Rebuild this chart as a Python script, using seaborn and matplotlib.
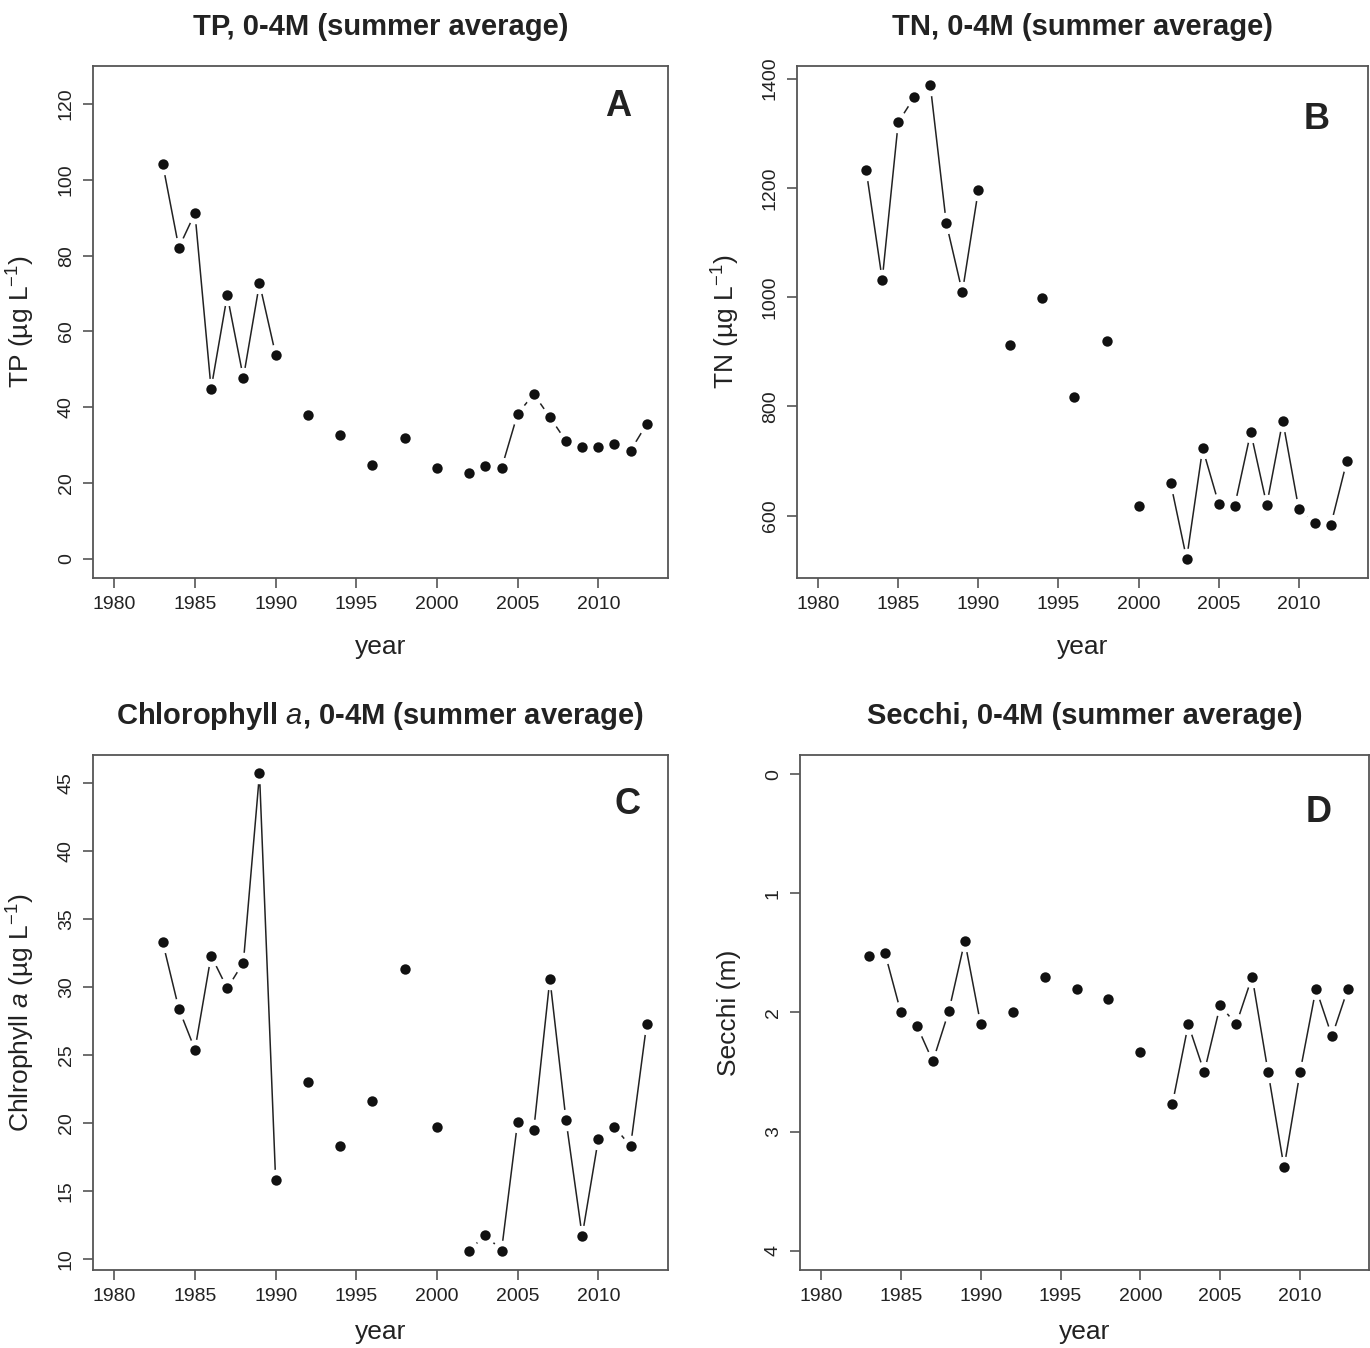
import numpy as np
import pandas as pd
import matplotlib
matplotlib.use("Agg")
import matplotlib.pyplot as plt
import seaborn as sns

# summer averages, 0-4 m
years = [1983, 1984, 1985, 1986, 1987, 1988, 1989, 1990, 1992, 1994, 1996, 1998, 2000,
         2002, 2003, 2004, 2005, 2006, 2007, 2008, 2009, 2010, 2011, 2012, 2013]

tp = [104.2, 82.1, 91.2, 44.9, 69.5, 47.8, 72.7, 53.9, 38.0, 32.6, 24.9, 31.9, 23.9,
      22.7, 24.5, 23.9, 38.3, 43.5, 37.4, 31.1, 29.6, 29.6, 30.4, 28.6, 35.6]

tn = [1232, 1032, 1320, 1366, 1388, 1135, 1009, 1196, 912, 999, 817, 920, 617,
      660, 521, 723, 622, 618, 753, 620, 774, 612, 586, 583, 700]

chla = [33.3, 28.4, 25.4, 32.3, 29.9, 31.8, 45.7, 15.8, 23.0, 18.3, 21.6, 31.3, 19.7,
        10.6, 11.8, 10.6, 20.1, 19.5, 30.6, 20.2, 11.7, 18.8, 19.7, 18.3, 27.3]

secchi = [1.53, 1.50, 2.00, 2.11, 2.41, 1.99, 1.40, 2.10, 2.00, 1.70, 1.80, 1.89, 2.33,
          2.77, 2.10, 2.50, 1.94, 2.10, 1.70, 2.50, 3.30, 2.50, 1.80, 2.20, 1.80]

# line only joins consecutive years
seg = list(np.cumsum(np.diff([years[0] - 1] + years) != 1))

sns.set_style("ticks")
plt.rcParams["font.family"] = ["Liberation Sans", "DejaVu Sans"]
plt.rcParams["mathtext.fontset"] = "custom"
plt.rcParams["mathtext.rm"] = "Liberation Sans"
plt.rcParams["mathtext.it"] = "Liberation Sans:italic"
plt.rcParams["mathtext.bf"] = "Liberation Sans:bold"

W, H = 1370, 1348
fig = plt.figure(figsize=(W / 100, H / 100), dpi=100)


def box(l, t, r, b):
    return [l / W, 1 - b / H, (r - l) / W, (b - t) / H]


panels = [
    (box(93, 66, 668, 578), tp, "TP, 0-4M (summer average)", r"TP (µg L$^{\mathregular{-1}}$)",
     (-5, 130), np.arange(0, 121, 20), "A", (0.913, 0.92), -0.135),
    (box(797, 66, 1368, 578), tn, "TN, 0-4M (summer average)", r"TN (µg L$^{\mathregular{-1}}$)",
     (486, 1423), np.arange(600, 1401, 200), "B", (0.91, 0.895), -0.135),
    (box(93, 755, 668, 1270), chla, r"Chlorophyll $\mathit{a}$, 0-4M (summer average)",
     r"Chlrophyll $\mathit{a}$ (µg L$^{\mathregular{-1}}$)", (9.19, 47.06), np.arange(10, 46, 5),
     "C", (0.93, 0.903), -0.12),
    (box(800, 755, 1369, 1270), secchi, "Secchi, 0-4M (summer average)", "Secchi (m)",
     (4.16, -0.16), np.arange(0, 5, 1), "D", (0.912, 0.889), -0.12),
]

frame = "#555555"
for rect, vals, title, ylab, ylim, yticks, letter, lpos, xlab_y in panels:
    ax = fig.add_axes(rect)
    df = pd.DataFrame({"year": years, "val": vals, "seg": seg})
    sns.lineplot(data=df, x="year", y="val", units="seg", estimator=None,
                 color="#222222", linewidth=1.1, ax=ax, zorder=1)
    # white halo gives the R type="b" gap around each point
    sns.scatterplot(data=df, x="year", y="val", color="white", s=240, linewidth=0,
                    ax=ax, zorder=2)
    sns.scatterplot(data=df, x="year", y="val", color="#111111", s=56, linewidth=0,
                    ax=ax, zorder=3)

    ax.set_xlim(1978.68, 2014.32)
    ax.set_ylim(*ylim)
    ax.set_xticks(np.arange(1980, 2011, 5))
    ax.set_yticks(yticks)
    for sp in ax.spines.values():
        sp.set_visible(True)
        sp.set_color(frame)
        sp.set_linewidth(1.3)
    ax.tick_params(direction="out", length=7, width=1.2, color=frame,
                   labelsize=14, labelcolor="#222222", pad=6)
    for lab in ax.get_yticklabels():
        lab.set_rotation(90)
        lab.set_va("center")

    ax.set_title(title, fontsize=21, fontweight="bold", color="#222222", pad=22)
    ax.set_xlabel("year", fontsize=19, color="#222222")
    ax.set_ylabel(ylab, fontsize=19, color="#222222")
    ax.xaxis.set_label_coords(0.5, xlab_y)
    ax.xaxis.label.set_va("center")
    ax.yaxis.set_label_coords(-0.125, 0.5)
    ax.yaxis.label.set_va("center")
    ax.text(lpos[0], lpos[1], letter, transform=ax.transAxes, ha="center", va="center",
            fontsize=26, fontweight="bold", color="#222222")

plt.savefig("out.png", dpi=100)
